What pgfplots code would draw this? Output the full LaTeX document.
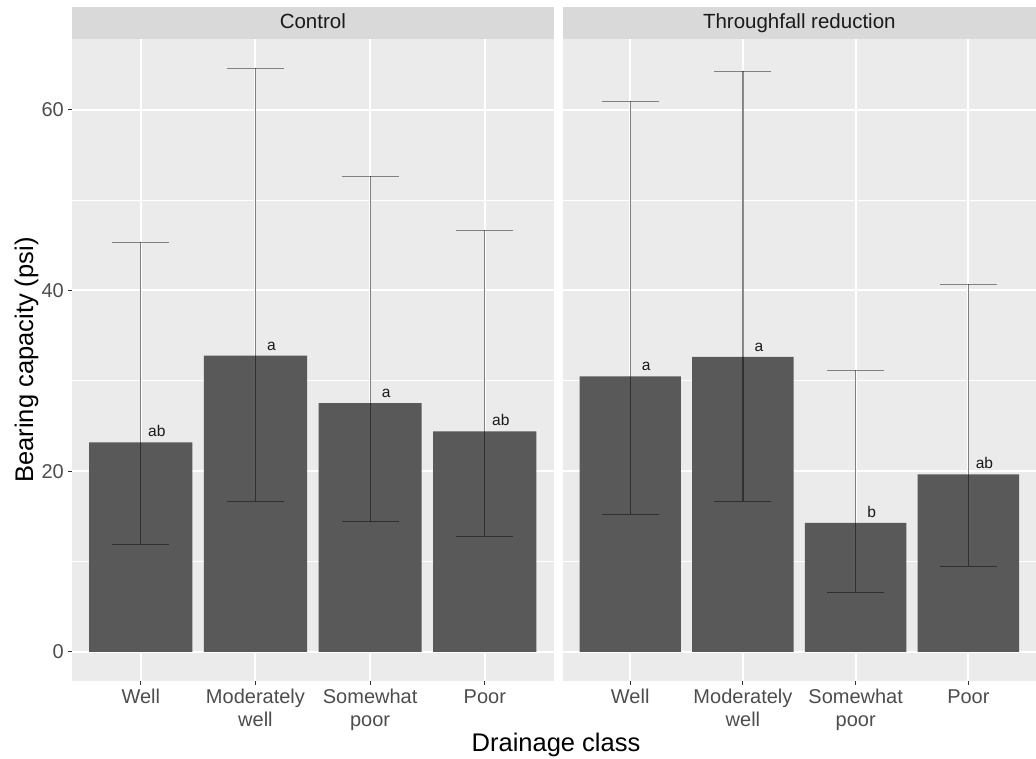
\documentclass[border=0pt]{standalone}
\usepackage{pgfplots}
\pgfplotsset{compat=1.18}
\usepackage{pgfplotstable}
\usepackage{fontspec}
\setmainfont{Liberation Sans}
\definecolor{panelgray}{HTML}{EBEBEB}
\definecolor{stripgray}{HTML}{D9D9D9}
\definecolor{barcol}{HTML}{595959}
\definecolor{tickgray}{HTML}{4D4D4D}
\definecolor{tickmark}{HTML}{333333}
\definecolor{striptext}{HTML}{1A1A1A}

% x  mean  lower  upper  label
\pgfplotstableread{
x y lo hi lab
1 23.18 11.89 45.35 ab
2 32.77 16.68 64.57 a
3 27.53 14.39 52.61 a
4 24.39 12.81 46.64 ab
}\controldata
\pgfplotstableread{
x y lo hi lab
1 30.48 15.24 60.92 a
2 32.65 16.65 64.27 a
3 14.28 6.57 31.14 b
4 19.63 9.45 40.70 ab
}\tfrdata

\pgfplotsset{
  facet/.style={
    scale only axis,
    height=642pt,
    xmin=0.4, xmax=4.6,
    ymin=-3.23, ymax=67.83,
    axis background/.style={fill=panelgray},
    axis line style={draw=none},
    xtick={1,2,3,4},
    xticklabels={{\strut Well},{\strut Moderately\\well},{\strut Somewhat\\poor},{\strut Poor}},
    ytick={0,20,40,60},
    minor ytick={10,30,50},
    grid=both,
    major grid style={white, line width=2pt},
    minor grid style={white, line width=1pt},
    tick align=outside,
    xtick pos=bottom,
    ytick pos=left,
    major tick length=4pt,
    minor tick length=0pt,
    tick style={tickmark, line width=1pt},
    /pgf/number format/assume math mode=true,
    ticklabel style={font=\fontsize{20}{23}\selectfont, text=tickgray},
    xticklabel style={align=center, inner sep=0pt, anchor=north, yshift=-2.5pt},
    yticklabel style={inner sep=0pt, anchor=east, xshift=-4pt},
    every axis title/.style={at={(0.5,1)}, anchor=south, fill=stripgray, inner sep=0pt,
      minimum height=32pt, text height=14.5pt, text depth=4pt,
      font=\fontsize{20.5}{23}\selectfont, text=striptext},
    clip=false,
  },
  bars/.style={
    ybar, bar width=0.9, fill=barcol, draw=none,
    point meta=explicit symbolic,
    nodes near coords,
    nodes near coords style={anchor=base, inner sep=0pt, xshift=16pt, yshift=5.5pt,
      font=\fontsize{15.5}{18}\selectfont, text=striptext},
    error bars/.cd, y dir=both, y explicit,
    error bar style={draw=black, draw opacity=0.45, line width=1.1pt},
    error mark options={draw=black, draw opacity=0.45, line width=1.1pt, rotate=90, mark size=28.5pt},
  },
}

\begin{document}
\begin{tikzpicture}
\path[use as bounding box] (0,0) rectangle (1036pt,759pt);

\begin{axis}[facet,
  at={(72pt,78pt)}, anchor=south west,
  width=481.6pt,
  title={Control},
  title style={minimum width=481.6pt},
  ylabel={Bearing capacity (psi)},
  every axis y label/.style={at={(rel axis cs:0,0.5)}, rotate=90, anchor=base,
    yshift=39pt, font=\fontsize{25.5}{30}\selectfont, text=black},
]
\addplot[bars] table[x=x, y=y, meta=lab,
  y error plus expr=\thisrow{hi}-\thisrow{y},
  y error minus expr=\thisrow{y}-\thisrow{lo}] {\controldata};
\end{axis}

\begin{axis}[facet,
  at={(562.6pt,78pt)}, anchor=south west,
  width=473.4pt,
  title={Throughfall reduction},
  title style={minimum width=473.4pt},
  yticklabels={},
  ytick style={draw=none},
]
\addplot[bars] table[x=x, y=y, meta=lab,
  y error plus expr=\thisrow{hi}-\thisrow{y},
  y error minus expr=\thisrow{y}-\thisrow{lo}] {\tfrdata};
\end{axis}

\node[anchor=base, inner sep=0pt, font=\fontsize{25.5}{30}\selectfont] at (556pt,7pt) {Drainage class};
\end{tikzpicture}
\end{document}
